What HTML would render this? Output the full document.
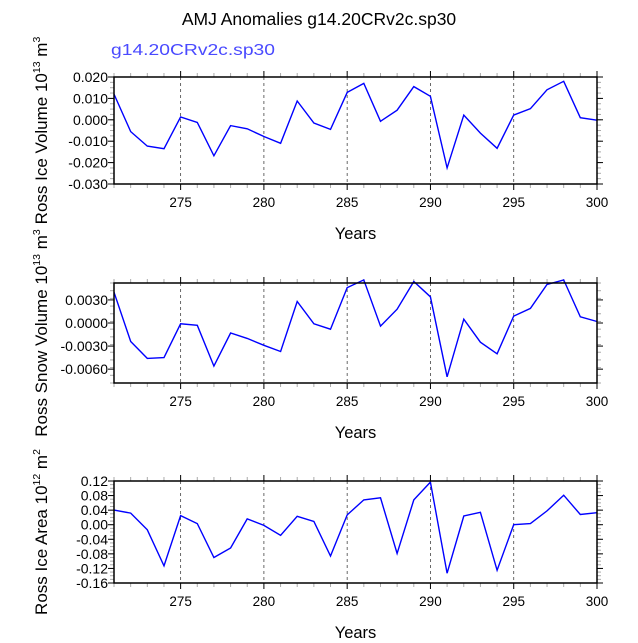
<!DOCTYPE html>
<html><head><meta charset="utf-8"><style>
body{margin:0;background:#fff;width:638px;height:638px;overflow:hidden}
svg{font-family:"Liberation Sans",sans-serif}
</style></head><body>
<svg id="c" width="638" height="638"></svg>
<script>
const years=[271,272,273,274,275,276,277,278,279,280,281,282,283,284,285,286,287,288,289,290,291,292,293,294,295,296,297,298,299,300];
const iceVolume=[0.012,-0.0055,-0.0123,-0.0135,0.0013,-0.0012,-0.0168,-0.0027,-0.0042,-0.0078,-0.011,0.0088,-0.0015,-0.0045,0.0128,0.017,-0.0007,0.0045,0.0155,0.011,-0.0225,0.0022,-0.0062,-0.0133,0.0022,0.0052,0.014,0.018,0.001,-0.0002];
const snowVolume=[0.0040,-0.0024,-0.0046,-0.0045,-0.0001,-0.0003,-0.0056,-0.0013,-0.0020,-0.0029,-0.0037,0.0028,-0.0001,-0.0008,0.0046,0.0056,-0.0004,0.0018,0.0054,0.0034,-0.0070,0.0005,-0.0025,-0.0040,0.0009,0.0019,0.0050,0.0056,0.0008,0.0002];
const iceArea=[0.04,0.032,-0.014,-0.113,0.025,0.003,-0.09,-0.064,0.016,-0.002,-0.029,0.023,0.009,-0.086,0.027,0.068,0.074,-0.079,0.068,0.117,-0.133,0.024,0.034,-0.125,0.0,0.003,0.038,0.081,0.028,0.033];
const xTicks=[275,280,285,290,295,300];
const iceVolTicks=["0.020","0.010","0.000","-0.010","-0.020","-0.030"];
const snowTicks=["0.0030","0.0000","-0.0030","-0.0060"];
const areaTicks=["0.12","0.08","0.04","0.00","-0.04","-0.08","-0.12","-0.16"];

const NS="http://www.w3.org/2000/svg";
const svg=document.getElementById('c');
function el(t,a,p){const e=document.createElementNS(NS,t);for(const k in a)e.setAttribute(k,a[k]);(p||svg).appendChild(e);return e;}
const X0=114,X1=597,xmin=271,xmax=300;
const xs=v=>X0+(v-xmin)/(xmax-xmin)*(X1-X0);

function panel(cfg){
  const g=el('g',{});
  
  
  const ys=v=>cfg.top+(cfg.ymax-v)/(cfg.ymax-cfg.ymin)*(cfg.bot-cfg.top);
  for(let yv=xmin;yv<=xmax;yv++){
    const x=xs(yv);const maj=xTicks.includes(yv);
    el('line',{x1:x,x2:x,y1:cfg.top,y2:cfg.top-(maj?6:4),stroke:maj?'#000':'#aaa','stroke-width':1},g);
    el('line',{x1:x,x2:x,y1:cfg.bot,y2:cfg.bot+(maj?6:4),stroke:maj?'#000':'#aaa','stroke-width':1},g);
    if(maj&&yv<xmax){const gl=el('line',{x1:x,x2:x,y1:cfg.top,y2:cfg.bot,stroke:'#444','stroke-width':0.8,'stroke-dasharray':'3,3'},g);
      }
    if(maj){const t=el('text',{x:x,y:cfg.bot+23,'font-size':13.5,'text-anchor':'middle'},g);t.textContent=yv;
      }
  }
  for(let v=cfg.ymin;v<=cfg.ymax+1e-9;v+=cfg.minor){
    const y=ys(v);
    el('line',{x1:X0,x2:X0-4,y1:y,y2:y,stroke:'#aaa'},g);
    el('line',{x1:X1,x2:X1+4,y1:y,y2:y,stroke:'#aaa'},g);
  }
  cfg.ticks.forEach(s=>{
    const v=parseFloat(s),y=ys(v);
    el('line',{x1:X0,x2:X0-6,y1:y,y2:y,stroke:'#000'},g);
    el('line',{x1:X1,x2:X1+6,y1:y,y2:y,stroke:'#000'},g);
    const t=el('text',{x:X0-6,y:y+5,'font-size':14,'text-anchor':'end'},g);t.textContent=s;
    
  });
  const pts=years.map((yr,i)=>xs(yr).toFixed(1)+','+ys(cfg.data[i]).toFixed(1)).join(' ');
  const pl=el('polyline',{points:pts,fill:'none',stroke:'#0000ff','stroke-width':1.4},g);
  
  el('rect',{x:X0,y:cfg.top,width:X1-X0,height:cfg.bot-cfg.top,fill:'none',stroke:'#000','stroke-width':1.5},g);
  const xt=el('text',{x:(X0+X1)/2,y:cfg.bot+55,'font-size':16.5,'text-anchor':'middle'},g);xt.textContent='Years';
  
  const cy=(cfg.top+cfg.bot)/2;
  const yt=el('text',{x:0,y:0,'font-size':17,'text-anchor':'middle',transform:`translate(${cfg.ylx},${cy}) rotate(-90)`},g);
  yt.innerHTML=cfg.label+' 10<tspan dy="-7" font-size="10.5">'+cfg.exp+'</tspan><tspan dy="7"> m</tspan><tspan dy="-7" font-size="10.5">'+cfg.mexp+'</tspan>';
  
}
panel({name:'ice-volume-panel',top:77,bot:184,ymin:-0.03,ymax:0.02,minor:0.0025,ticks:iceVolTicks,data:iceVolume,label:'Ross Ice Volume',exp:'13',mexp:'3',ylx:47});
panel({name:'snow-volume-panel',top:283,bot:383,ymin:-0.0078,ymax:0.0052,minor:0.001,ticks:snowTicks,data:snowVolume,label:'Ross Snow Volume',exp:'13',mexp:'3',ylx:47});
panel({name:'ice-area-panel',top:481,bot:583,ymin:-0.16,ymax:0.12,minor:0.01,ticks:areaTicks,data:iceArea,label:'Ross Ice Area',exp:'12',mexp:'2',ylx:47});
const tt=el('text',{x:319,y:25,'font-size':17.5,'text-anchor':'middle'});tt.textContent='AMJ Anomalies g14.20CRv2c.sp30';

const lg=el('text',{x:111,y:55,'font-size':16,fill:'#4a4aff',textLength:164,lengthAdjust:'spacingAndGlyphs'});lg.textContent='g14.20CRv2c.sp30';

</script>
</body></html>
